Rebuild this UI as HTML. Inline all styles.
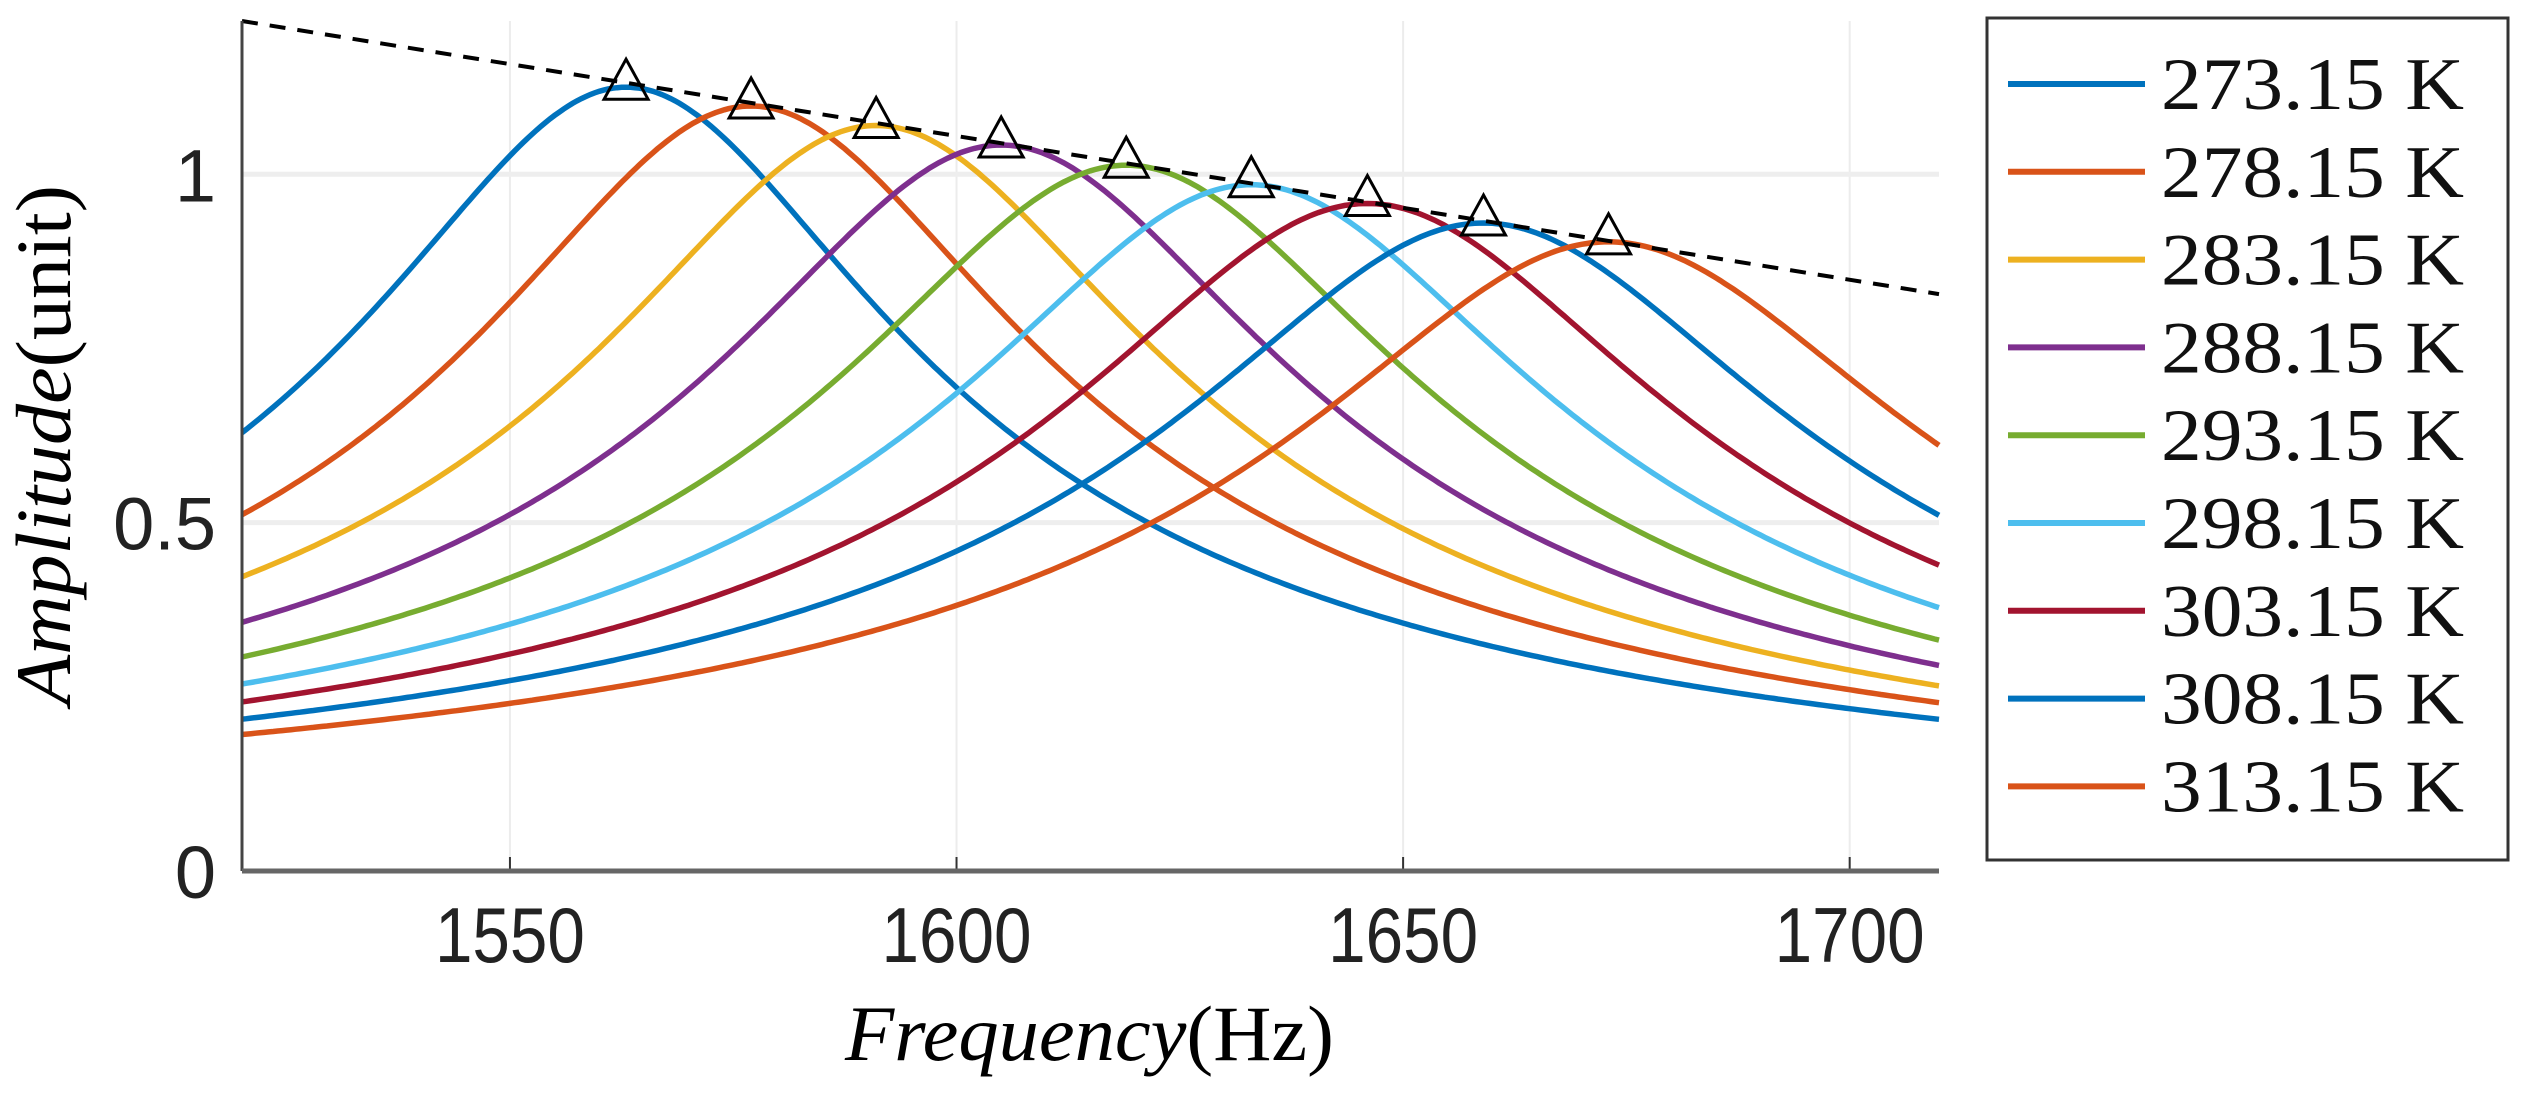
<!DOCTYPE html>
<html><head><meta charset="utf-8"><style>
html,body{margin:0;padding:0;background:#fff;}
svg{display:block}
</style></head><body>
<svg id="chart" width="2529" height="1094" xmlns="http://www.w3.org/2000/svg">
<g id="grid"></g>
<g id="curves"></g>
<g id="axes"></g>
<text x="845" y="1060" textLength="489" lengthAdjust="spacingAndGlyphs" font-family="Liberation Serif, serif" font-size="78"><tspan font-style="italic">Frequency</tspan>(Hz)</text>
<text transform="translate(70,705) rotate(-90)" textLength="520" lengthAdjust="spacingAndGlyphs" font-family="Liberation Serif, serif" font-size="78"><tspan font-style="italic">Amplitude</tspan>(unit)</text>
<g id="legend">
<rect x="1987" y="18" width="521" height="842" fill="#fff" stroke="#333" stroke-width="3"/>
</g>
</svg>
<script>
const labels = ["273.15 K","278.15 K","283.15 K","288.15 K","293.15 K","298.15 K","303.15 K","308.15 K","313.15 K"];
const peakFreq = [1563,1577,1591,1605,1619,1633,1646,1659,1673];
const peakAmp = [1.125,1.098,1.070,1.042,1.013,0.985,0.958,0.930,0.903];
const halfWidth = [29,30,30.5,31,31.5,32,33,33.5,34];
const colors = ["#0072BD","#D95319","#EDB120","#7E2F8E","#77AC30","#4DBEEE","#A2142F","#0072BD","#D95319"];
const xTicks = [1550,1600,1650,1700];
const yTicks = [0,0.5,1];
const yTickLabels = ["0","0.5","1"];
const envelope = [[1520,1.22],[1710,0.828]];

const X0=242,X1=1939,Y0=871,Y1=21, xmin=1520,xmax=1710,ymin=0,ymax=1.22;
const sx=v=>X0+(v-xmin)/(xmax-xmin)*(X1-X0);
const sy=v=>Y0-(v-ymin)/(ymax-ymin)*(Y0-Y1);
const NS="http://www.w3.org/2000/svg";
function mk(parent,tag,attrs){const e=document.createElementNS(NS,tag);for(const k in attrs)e.setAttribute(k,attrs[k]);parent.appendChild(e);return e;}
const grid=document.getElementById('grid'),curves=document.getElementById('curves'),axes=document.getElementById('axes'),legend=document.getElementById('legend');

xTicks.forEach(t=>{
  const l=mk(grid,'line',{x1:sx(t),x2:sx(t),y1:Y1,y2:Y0,stroke:'#ececec','stroke-width':2});
  
  
  const k=mk(axes,'line',{x1:sx(t),x2:sx(t),y1:Y0,y2:Y0-14,stroke:'#333','stroke-width':2});
  
  
  const tx=mk(axes,'text',{x:sx(t)-75,y:962,textLength:150,lengthAdjust:'spacingAndGlyphs','font-family':'Liberation Sans, sans-serif','font-size':78,fill:'#222'});
  tx.textContent=t;
  
  
});
yTicks.forEach((t,i)=>{
  if(t>0){const l=mk(grid,'line',{x1:X0,x2:X1,y1:sy(t),y2:sy(t),stroke:'#eeeeee','stroke-width':5});
  
  }
  const tx=mk(axes,'text',{x:216,y:sy(t)+27,'text-anchor':'end','font-family':'Liberation Sans, sans-serif','font-size':74,fill:'#222'});
  tx.textContent=yTickLabels[i];
  
  
});

peakFreq.forEach((f0,i)=>{
  let d='';
  for(let f=xmin;f<=xmax+0.001;f+=0.5){
    const a=peakAmp[i]/Math.sqrt(1+Math.pow((f-f0)/halfWidth[i],2));
    d+=(d?'L':'M')+sx(f).toFixed(1)+','+sy(a).toFixed(1);
  }
  const p=mk(curves,'path',{d:d,fill:'none',stroke:colors[i],'stroke-width':5.5});
  
  
});
const env=mk(curves,'line',{x1:sx(envelope[0][0]),y1:sy(envelope[0][1]),x2:sx(envelope[1][0]),y2:sy(envelope[1][1]),stroke:'#000','stroke-width':4,'stroke-dasharray':'16,12'});


peakFreq.forEach((f0,i)=>{
  const cx=sx(f0),cy=sy(peakAmp[i]);
  const t=mk(curves,'polygon',{points:`${cx},${cy-28} ${cx-22},${cy+12} ${cx+22},${cy+12}`,fill:'none',stroke:'#000','stroke-width':3});
  
  
});
const ax1=mk(axes,'line',{x1:X0,x2:X0,y1:Y1,y2:Y0,stroke:'#444','stroke-width':3});


const ax2=mk(axes,'line',{x1:X0,x2:X1,y1:Y0,y2:Y0,stroke:'#666','stroke-width':5});



labels.forEach((lab,i)=>{
  const y=84+i*87.8;
  const l=mk(legend,'line',{x1:2008,x2:2145,y1:y,y2:y,stroke:colors[i],'stroke-width':6});
  
  
  const t=mk(legend,'text',{x:2161,y:y+25,textLength:303,lengthAdjust:'spacingAndGlyphs','font-family':'Liberation Serif, serif','font-size':74,fill:'#111'});
  t.textContent=lab;
  
  
});
</script>
</body></html>
